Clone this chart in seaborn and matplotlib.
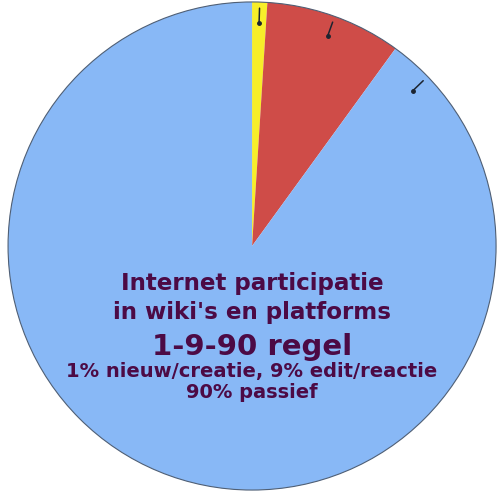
import numpy as np
import seaborn as sns
import matplotlib.pyplot as plt

# 1-9-90 participation rule
shares = [1, 9, 90]
groups = ["nieuw/creatie", "edit/reactie", "passief"]
slice_colors = ["#F7EE2A", "#CF4C48", "#88B8F6"]

title_lines = ["Internet participatie", "in wiki's en platforms"]
rule_line = "1-9-90 regel"
detail_lines = ["1% nieuw/creatie, 9% edit/reactie", "90% passief"]

sns.set_theme(style="white")
plt.rcParams["font.family"] = ["DejaVu Sans"]

fig = plt.figure(figsize=(4.99, 4.92), dpi=100)
ax = fig.add_axes([0, 0, 1, 1])

wedges, _ = ax.pie(shares, colors=slice_colors, startangle=90, counterclock=False,
                   radius=1.0, labels=None,
                   wedgeprops=dict(linewidth=0))
ax.add_patch(plt.Circle((0, 0), 1.0, fill=False, edgecolor="#4f5f75", lw=0.8))

# little leader marks near the rim
for i, w in enumerate(wedges):
    if i < 2:
        ang = (w.theta1 + w.theta2) / 2
    else:
        ang = w.theta2 - 10
    a = np.deg2rad(ang)
    x0, y0 = 0.915 * np.cos(a), 0.915 * np.sin(a)
    x1, y1 = 0.975 * np.cos(a), 0.975 * np.sin(a)
    ax.plot([x0, x1], [y0, y1], color="#1c2430", lw=1.1)
    ax.plot(x0, y0, "o", color="#1c2430", ms=2.5)

txt = "#4c0a45"
ax.text(0, -0.152, title_lines[0], ha="center", va="center", fontsize=16.6, fontweight="bold", color=txt)
ax.text(0, -0.272, title_lines[1], ha="center", va="center", fontsize=16.6, fontweight="bold", color=txt)
ax.text(0, -0.414, rule_line, ha="center", va="center", fontsize=21, fontweight="bold", color=txt)
ax.text(0, -0.516, detail_lines[0], ha="center", va="center", fontsize=14, fontweight="bold", color=txt)
ax.text(0, -0.6, detail_lines[1], ha="center", va="center", fontsize=14, fontweight="bold", color=txt)

ax.set_aspect("auto")
ax.set_xlim(-1.033, 1.012)
ax.set_ylim(-1.008, 1.008)
ax.axis("off")

fig.savefig("out.png", dpi=100, facecolor="white")
